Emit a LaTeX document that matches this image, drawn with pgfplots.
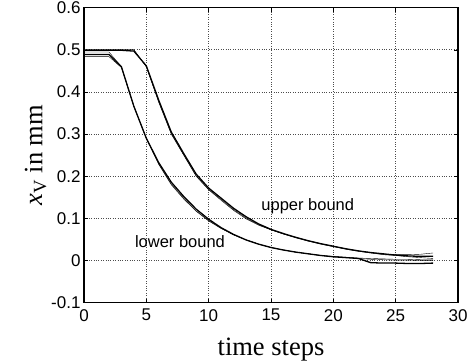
\documentclass[border=0pt]{standalone}
\usepackage{pgfplots}
\pgfplotsset{compat=1.18}
\usepackage{fontspec}
\setmainfont{Liberation Serif}
\newfontfamily\arialf{Liberation Sans}
\begin{document}
\begin{tikzpicture}
\useasboundingbox (-84pt,-59.3pt) rectangle (386pt,302.7pt);
\begin{axis}[
  scale only axis, width=374pt, height=295pt,
  xmin=0, xmax=30, ymin=-0.1, ymax=0.6,
  xtick={0,5,...,30}, ytick={-0.1,0,0.1,0.2,0.3,0.4,0.5,0.6},
  yticklabels={-0.1,0,0.1,0.2,0.3,0.4,0.5,0.6},
  xticklabels={0,5,10,15,20,25,30},
  tick label style={font=\arialf\fontsize{17}{18}\selectfont},
  xticklabel style={yshift=-3pt},
  tick align=inside, major tick length=4pt,
  tick style={black, line width=0.6pt},
  grid=major, grid style={black!70, dotted, line width=0.7pt},
  axis line style={black, line width=1.2pt},
  xlabel={time steps}, ylabel={\textit{x}\textsubscript{V} in mm},
  label style={font=\fontsize{26.5}{27}\selectfont},
  xlabel style={yshift=-10pt}, ylabel style={yshift=-2pt},
  cycle list={{black, line width=1.3pt, mark=none}},
  clip=false,
]
% upper bound lines
\addplot coordinates {(0,0.5)(1,0.5)(2,0.5)(3,0.5)(4,0.5)(5,0.46)(6,0.375)(7,0.30)(8,0.25)(9,0.2)(10,0.168)(11,0.143)(12,0.119)(13,0.099)(14,0.084)(15,0.073)(16,0.063)(17,0.055)(18,0.047)(19,0.040)(20,0.034)(21,0.028)(22,0.023)(23,0.019)(24,0.015)(25,0.014)(26,0.014)(27,0.015)(28,0.018)};
\addplot coordinates {(0,0.499)(1,0.499)(2,0.499)(3,0.499)(4,0.497)(5,0.462)(6,0.38)(7,0.305)(8,0.254)(9,0.205)(10,0.172)(11,0.148)(12,0.124)(13,0.104)(14,0.087)(15,0.074)(16,0.064)(17,0.055)(18,0.047)(19,0.040)(20,0.034)(21,0.028)(22,0.023)(23,0.019)(24,0.016)(25,0.013)(26,0.011)(27,0.010)(28,0.010)};
\addplot coordinates {(0,0.5)(1,0.5)(2,0.5)(3,0.5)(4,0.5)(5,0.46)(6,0.377)(7,0.302)(8,0.251)(9,0.201)(10,0.169)(11,0.145)(12,0.121)(13,0.101)(14,0.085)(15,0.073)(16,0.063)(17,0.054)(18,0.046)(19,0.039)(20,0.033)(21,0.027)(22,0.022)(23,0.018)(24,0.014)(25,0.012)(26,0.009)(27,0.007)(28,0.005)};
% lower bound lines
\addplot coordinates {(0,0.495)(1,0.495)(2,0.495)(3,0.46)(4,0.366)(5,0.29)(6,0.228)(7,0.18)(8,0.146)(9,0.117)(10,0.094)(11,0.076)(12,0.061)(13,0.049)(14,0.039)(15,0.031)(16,0.025)(17,0.020)(18,0.016)(19,0.012)(20,0.010)(21,0.008)(22,0.006)(23,0.005)(24,0.004)(25,0.003)(26,0.003)(27,0.002)(28,0.002)};
\addplot coordinates {(0,0.489)(1,0.489)(2,0.489)(3,0.46)(4,0.366)(5,0.29)(6,0.232)(7,0.186)(8,0.152)(9,0.122)(10,0.098)(11,0.078)(12,0.062)(13,0.049)(14,0.039)(15,0.031)(16,0.025)(17,0.020)(18,0.016)(19,0.012)(20,0.009)(21,0.007)(22,0.005)(23,-0.005)(24,-0.006)(25,-0.006)(26,-0.007)(27,-0.007)(28,-0.006)};
\addplot coordinates {(0,0.484)(1,0.484)(2,0.484)(3,0.458)(4,0.366)(5,0.29)(6,0.229)(7,0.182)(8,0.148)(9,0.118)(10,0.095)(11,0.077)(12,0.061)(13,0.049)(14,0.039)(15,0.031)(16,0.025)(17,0.020)(18,0.016)(19,0.012)(20,0.009)(21,0.007)(22,0.005)(23,0.003)(24,0.002)(25,0.001)(26,0.001)(27,0.0)(28,0.0)};
\node[font=\arialf\fontsize{16.5}{17}\selectfont] at (axis cs:17.95,0.13) {upper bound};
\node[font=\arialf\fontsize{16.5}{17}\selectfont] at (axis cs:7.7,0.046) {lower bound};
\end{axis}
\end{tikzpicture}
\end{document}
